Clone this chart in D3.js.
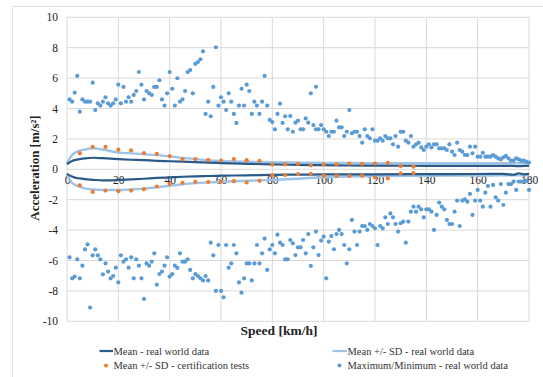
<!DOCTYPE html>
<html><head><meta charset="utf-8">
<script src="https://cdn.jsdelivr.net/npm/d3@7"></script>
<style>body{margin:0;background:#fff}svg{display:block}text{font-family:"Liberation Serif","Times New Roman",serif}</style>
</head><body><svg id="c" width="543" height="377"></svg>
<script>
// ---- data ----
const xTicks = [0,20,40,60,80,100,120,140,160,180];
const yTicks = [-10,-8,-6,-4,-2,0,2,4,6,8,10];

const curveSpeed = [0,1,2,3,5,7,10,14,20,25,30,35,40,45,50,55,60,70,80,90,100,110,120,140,160,170,174,176,178,180];
const meanUpper  = [0.35,0.45,0.55,0.6,0.67,0.72,0.76,0.73,0.67,0.63,0.6,0.56,0.53,0.5,0.47,0.44,0.41,0.36,0.32,0.29,0.27,0.25,0.24,0.23,0.22,0.22,0.22,0.21,0.22,0.22];
const meanLower  = [-0.3,-0.4,-0.48,-0.55,-0.6,-0.65,-0.69,-0.73,-0.7,-0.66,-0.62,-0.57,-0.53,-0.49,-0.46,-0.44,-0.42,-0.4,-0.37,-0.35,-0.34,-0.33,-0.33,-0.32,-0.31,-0.3,-0.36,-0.26,-0.33,-0.3];
const sdUpper    = [0.35,0.7,0.95,1.08,1.22,1.3,1.38,1.3,1.1,1.05,1.0,0.93,0.85,0.75,0.67,0.6,0.55,0.5,0.47,0.44,0.42,0.41,0.4,0.4,0.4,0.4,0.4,0.4,0.4,0.4];
const sdLower    = [-0.3,-0.65,-0.9,-1.0,-1.15,-1.25,-1.33,-1.36,-1.36,-1.33,-1.27,-1.18,-1.08,-0.98,-0.91,-0.86,-0.82,-0.75,-0.7,-0.62,-0.52,-0.47,-0.45,-0.42,-0.41,-0.4,-0.4,-0.4,-0.4,-0.4];

const certSpeed = [5,10,15,20,25,30,35,40,45,50,55,60,65,70,75,80,85,90,95,100,105,110,115,120,125,130,135];
const certUpper = [1.05,1.47,1.47,1.29,1.24,1.07,1.02,0.87,0.65,0.67,0.62,0.58,0.67,0.6,0.56,0.31,0.33,0.36,0.26,0.31,0.33,0.38,0.36,0.38,0.42,0.21,0.17];
const certLower = [-1.05,-1.49,-1.4,-1.44,-1.4,-1.31,-1.13,-0.96,-0.89,-0.82,-0.84,-0.82,-0.78,-0.87,-0.76,-0.38,-0.38,-0.31,-0.3,-0.42,-0.43,-0.44,-0.42,-0.54,-0.6,-0.27,-0.25];

const maxSpeed = [1,2,3,4,5,6,7,8,9,10,11,12,13,14,15,16,17,18,19,20,21,22,23,24,25,26,27,28,29,30,31,32,33,34,35,36,37,38,39,40,41,42,43,44,45,46,47,48,49,50,51,52,53,54,55,56,57,58,59,60,61,62,63,64,65,66,67,68,69,70,71,72,73,74,75,76,77,78,79,80,81,82,83,84,85,86,87,88,89,90,91,92,93,94,95,96,97,97,98,99,100,101,102,103,104,105,106,107,108,109,110,111,112,113,114,115,116,117,118,119,120,121,122,123,124,125,126,127,128,129,130,131,132,133,134,135,136,137,138,139,140,141,142,143,144,145,146,147,148,149,150,151,152,153,154,155,156,157,158,159,160,161,162,163,164,165,166,167,168,169,170,171,172,173,174,175,176,177,178,179,180];
const maxValue = [4.6,4.45,5.04,6.14,3.79,4.6,4.45,4.45,4.45,5.7,3.9,4.34,4.19,4.45,4.74,4.34,4.19,4.34,4.6,5.57,4.34,5.42,4.45,4.74,4.45,4.89,5.15,6.4,5.57,4.6,5.15,5.0,4.89,5.42,5.42,5.86,4.6,4.19,5.0,6.4,5.3,4.19,5.99,4.45,4.6,5.15,6.4,6.53,5.0,6.93,7.06,7.24,7.76,3.64,4.45,3.49,5.42,8.03,4.19,4.74,4.45,3.9,5.0,4.45,3.64,3.05,4.19,5.3,4.19,5.57,5.15,3.64,4.45,4.19,3.64,4.45,6.14,4.19,3.25,3.11,2.63,3.64,4.32,3.05,3.49,2.63,3.5,2.47,3.07,3.2,2.63,2.63,3.35,3.07,5.0,2.91,5.43,2.63,2.63,2.91,2.63,2.47,2.19,2.47,2.47,3.2,2.76,2.76,2.19,2.47,3.9,2.37,2.47,2.47,2.19,1.75,2.63,2.19,2.04,2.63,1.88,1.88,2.04,1.88,2.19,2.04,2.04,1.64,2.19,1.49,2.47,2.47,1.88,1.75,2.19,1.49,1.64,1.75,1.44,1.27,1.49,1.64,1.44,1.64,1.64,1.38,1.38,1.38,1.27,1.64,1.16,0.94,1.75,1.27,1.16,0.94,0.94,1.49,1.05,1.49,0.83,0.83,1.09,0.83,0.83,0.83,0.94,0.83,0.72,0.65,0.79,0.88,0.72,0.57,0.57,0.72,0.65,0.57,0.57,0.5,0.44];

const minSpeed = [1,2,3,4,5,6,7,8,9,10,11,12,13,14,15,16,17,18,19,20,21,22,23,24,25,26,27,28,29,30,31,32,33,34,35,36,37,38,39,40,41,42,43,44,45,46,47,48,49,50,51,52,53,54,55,56,57,58,59,60,61,62,63,64,65,66,67,68,69,70,71,72,73,74,75,76,77,78,79,80,81,82,83,84,85,86,87,88,89,90,91,92,93,94,95,96,97,98,99,100,101,102,103,104,105,106,107,108,109,110,111,112,113,114,115,116,117,118,119,120,121,122,123,124,125,126,127,128,129,130,131,132,133,134,135,136,137,138,139,140,141,142,143,144,145,146,147,148,149,150,151,152,153,154,155,156,157,158,159,160,161,162,163,164,165,166,167,168,169,170,171,172,173,174,175,176,177,178,179,180];
const minValue = [-5.79,-7.17,-7.06,-5.92,-7.17,-6.34,-5.27,-4.94,-9.1,-5.66,-5.27,-5.66,-5.92,-6.91,-6.19,-6.73,-7.17,-7.02,-6.47,-7.44,-5.66,-6.08,-5.92,-6.47,-5.79,-7.17,-5.92,-6.34,-7.17,-8.53,-6.19,-6.34,-6.08,-5.53,-7.59,-6.89,-6.73,-6.34,-5.79,-7.06,-6.89,-6.34,-6.49,-5.53,-6.08,-6.08,-5.92,-6.62,-7.17,-6.89,-7.02,-7.17,-7.31,-7.02,-7.31,-4.83,-5.66,-8.0,-4.98,-8.0,-8.42,-4.98,-6.47,-6.19,-4.98,-5.53,-7.44,-8.12,-7.17,-6.19,-6.19,-7.31,-6.19,-4.98,-6.19,-5.53,-4.56,-6.62,-5.27,-4.98,-5.53,-4.3,-4.83,-4.98,-5.92,-5.92,-4.65,-4.87,-5.64,-5.13,-5.13,-4.65,-5.53,-4.26,-6.36,-5.13,-4.1,-5.64,-4.69,-4.43,-7.17,-4.76,-4.39,-5.26,-4.26,-3.99,-4.26,-4.98,-6.19,-5.26,-3.33,-4.1,-4.98,-4.1,-3.73,-3.73,-3.99,-3.6,-3.73,-3.88,-4.98,-3.73,-3.88,-3.16,-3.6,-2.9,-3.16,-3.6,-4.1,-3.55,-3.44,-4.83,-3.44,-2.79,-2.46,-2.79,-2.46,-2.63,-3.16,-2.63,-2.63,-2.79,-3.99,-3.0,-2.19,-2.46,-2.63,-3.33,-3.6,-3.6,-2.79,-2.06,-3.73,-2.06,-1.98,-2.13,-1.62,-3.0,-2.06,-1.36,-2.06,-2.46,-1.54,-1.1,-2.46,-1.03,-1.84,-2.06,-0.97,-2.35,-1.54,-0.97,-0.97,-0.81,-1.36,-0.81,-0.81,-0.81,-0.75,-1.36];

const legendLabels = ["Mean - real world data","Mean +/- SD - real world data","Mean +/- SD - certification tests","Maximum/Minimum - real world data"];

// ---- drawing ----
const svg = d3.select("#c");
const C = {dark:"#2b5a8a", light:"#9dc3e6", orange:"#ed7d31", dot:"#5b9bd5", grid:"#d9d9d9"};
const serif = '"Liberation Serif","Times New Roman",serif';

svg.append("rect").attr("x",12.5).attr("y",6.5).attr("width",540).attr("height",380)
  .attr("fill","#fff").attr("stroke","#e2e2e2");

const x = d3.scaleLinear().domain([0,180]).range([67,529]);
const y = d3.scaleLinear().domain([-10,10]).range([321.3,17.3]);

const g = svg.append("g");
g.selectAll(".hg").data(yTicks).join("line")
  .attr("x1",x(0)).attr("x2",x(180)).attr("y1",d=>y(d)).attr("y2",d=>y(d))
  .attr("stroke",C.grid).attr("stroke-width",1);
g.selectAll(".vg").data(xTicks).join("line")
  .attr("y1",y(-10)).attr("y2",y(10)).attr("x1",d=>x(d)).attr("x2",d=>x(d))
  .attr("stroke",C.grid).attr("stroke-width",1);

// y tick labels
const yAxis = d3.axisLeft(y).tickValues(yTicks).tickSize(0).tickPadding(9).tickFormat(d=>String(d));
const ya = svg.append("g").attr("transform",`translate(${x(0)},0)`).call(yAxis);
ya.attr("font-family",null);
ya.select(".domain").remove();
ya.selectAll("text").style("font-family",serif).style("font-size","11.5px").attr("fill","#222");

// x tick labels at the zero line
const xAxis = d3.axisBottom(x).tickValues(xTicks).tickSize(0).tickPadding(7).tickFormat(d=>String(d));
const xa = svg.append("g").attr("transform",`translate(0,${y(0)})`).call(xAxis);
xa.attr("font-family",null);
xa.select(".domain").remove();
xa.selectAll("text").style("font-family",serif).style("font-size","11.5px").attr("fill","#222");

// lines
const line = d3.line().curve(d3.curveMonotoneX);
function pts(vals){ return curveSpeed.map((s,i)=>[x(s),y(vals[i])]); }
[sdUpper,sdLower].forEach(v=>svg.append("path").attr("d",line(pts(v)))
  .attr("fill","none").attr("stroke",C.light).attr("stroke-width",2.4));
[meanUpper,meanLower].forEach(v=>svg.append("path").attr("d",line(pts(v)))
  .attr("fill","none").attr("stroke",C.dark).attr("stroke-width",2.2));

// scatter max/min
svg.append("g").selectAll("circle").data(maxSpeed.map((s,i)=>[s,maxValue[i]])).join("circle")
  .attr("cx",d=>x(d[0])).attr("cy",d=>y(d[1])).attr("r",2.1).attr("fill",C.dot);
svg.append("g").selectAll("circle").data(minSpeed.map((s,i)=>[s,minValue[i]])).join("circle")
  .attr("cx",d=>x(d[0])).attr("cy",d=>y(d[1])).attr("r",2.1).attr("fill",C.dot);

// certification dots
const cert = certSpeed.map((s,i)=>[s,certUpper[i]]).concat(certSpeed.map((s,i)=>[s,certLower[i]]));
svg.append("g").selectAll("circle").data(cert).join("circle")
  .attr("cx",d=>x(d[0])).attr("cy",d=>y(d[1])).attr("r",2.1).attr("fill",C.orange);

// axis titles
svg.append("text").attr("transform","translate(39,168) rotate(-90)")
  .attr("text-anchor","middle").style("font-family",serif).attr("font-weight","bold")
  .style("font-size","13px").attr("fill","#222").text("Acceleration [m/s²]");
svg.append("text").attr("x",279).attr("y",334.5)
  .attr("text-anchor","middle").style("font-family",serif).attr("font-weight","bold")
  .style("font-size","13.5px").attr("fill","#222").text("Speed [km/h]");

// legend
const lg = svg.append("g").style("font-family",serif).style("font-size","10.5px").attr("fill","#333");
lg.append("line").attr("x1",99.5).attr("x2",113).attr("y1",351).attr("y2",351).attr("stroke",C.dark).attr("stroke-width",2.2);
lg.append("text").attr("x",113.5).attr("y",354.5).text(legendLabels[0]);
lg.append("line").attr("x1",332.5).attr("x2",347).attr("y1",351).attr("y2",351).attr("stroke",C.light).attr("stroke-width",2.2);
lg.append("text").attr("x",347.5).attr("y",354.5).text(legendLabels[1]);
lg.append("circle").attr("cx",106).attr("cy",365.5).attr("r",2).attr("fill",C.orange);
lg.append("text").attr("x",113.5).attr("y",369).text(legendLabels[2]);
lg.append("circle").attr("cx",339.5).attr("cy",365.5).attr("r",2).attr("fill",C.dot);
lg.append("text").attr("x",347.5).attr("y",369).text(legendLabels[3]);
</script></body></html>
